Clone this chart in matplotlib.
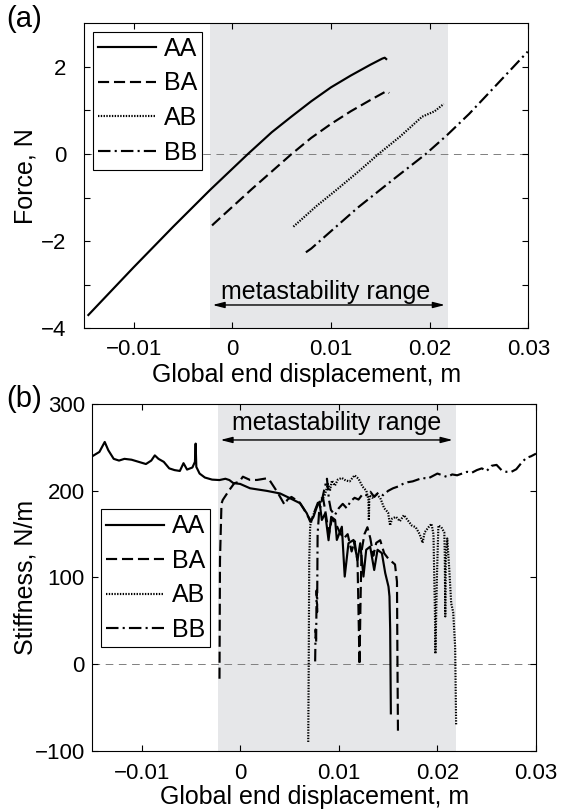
import matplotlib
matplotlib.use("Agg")
import matplotlib.pyplot as plt
from matplotlib.lines import Line2D

plt.rcParams['font.family'] = ['Liberation Sans', 'DejaVu Sans']
plt.rcParams['lines.scale_dashes'] = False
plt.rcParams['axes.linewidth'] = 0.8

# ---------------- data ----------------
labels = ["AA", "BA", "AB", "BB"]
meta_lo, meta_hi = -0.0023, 0.0219

x_ticks = [-0.01, 0.0, 0.01, 0.02, 0.03]
x_ticklabels = ["\u22120.01", "0", "0.01", "0.02", "0.03"]
force_ticks = [-4, -3, -2, -1, 0, 1, 2]
force_ticklabels = ["\u22124", "", "\u22122", "", "0", "", "2"]
stiff_ticks = [-100, 0, 100, 200, 300]
stiff_ticklabels = ["\u2212100", "0", "100", "200", "300"]

# force vs. global end displacement
force_AA_x = [-0.01459, -0.0100, -0.0060, -0.00226, 0.00158, 0.0040, 0.0060, 0.0080,
              0.0100, 0.0120, 0.0140, 0.0152, 0.01545, 0.0156]
force_AA_y = [-3.695, -2.60, -1.67, -0.826, 0.0, 0.50, 0.86, 1.21,
              1.53, 1.80, 2.05, 2.19, 2.21, 2.18]
force_BA_x = [-0.00205, -0.0019, 0.0020, 0.00601, 0.0080, 0.0100, 0.0120, 0.0140,
              0.0156, 0.0159]
force_BA_y = [-1.64, -1.606, -0.80, 0.0, 0.37, 0.69, 0.98, 1.24, 1.44, 1.40]
force_AB_x = [0.00619, 0.0085, 0.01054, 0.0128, 0.01482, 0.0170, 0.01924, 0.0205, 0.02142]
force_AB_y = [-1.668, -1.20, -0.826, -0.40, 0.0, 0.40, 0.857, 0.98, 1.148]
force_BB_x = [0.00746, 0.0080, 0.01272, 0.0165, 0.01961, 0.02178, 0.0240, 0.0260, 0.02994]
force_BB_y = [-2.256, -2.17, -1.23, -0.55, 0.0, 0.437, 0.92, 1.40, 2.35]

# stiffness vs. global end displacement
stiff_AA_x = [-0.0150, -0.01428, -0.01374, -0.01338, -0.01283, -0.01229, -0.01174,
              -0.01102, -0.01029, -0.00956, -0.00902, -0.00866, -0.00829, -0.00775,
              -0.0072, -0.00666, -0.00612, -0.00575, -0.00539, -0.00485, -0.00459,
              -0.00452, -0.00445, -0.00412, -0.00358, -0.00285, -0.0021, -0.0015,
              -0.0011, -0.0007, 0.0000, 0.0010, 0.0027, 0.00405, 0.00507, 0.00608,
              0.00676, 0.0071, 0.00743, 0.00778, 0.00804, 0.00828, 0.00862, 0.00896,
              0.00923, 0.00963, 0.0098, 0.01031, 0.0106, 0.01098, 0.01149, 0.0119,
              0.01217, 0.0125, 0.01278, 0.01318, 0.01359, 0.01393, 0.01437, 0.01471,
              0.01504, 0.01514, 0.01521, 0.01528]
stiff_AA_y = [240, 245, 256.5, 247, 237, 235, 237,
              236, 233.5, 231, 235, 241, 237, 233.5,
              226, 224, 223, 232, 224.6, 227, 233.5,
              254.6, 227.7, 220, 215.4, 213, 212.5, 214,
              212.5, 209, 208, 203, 200, 197, 191.4, 185.7,
              174, 164.4, 170, 181.7, 187.5, 166.4, 174, 143,
              170, 166.4, 143.3, 158.6, 101, 139.5, 143.3, 120,
              139.5, 101, 132, 135.6, 108.6, 132, 128, 105,
              89.4, 78, 40, -57]

stiff_BA_x = [-0.0021, -0.00205, -0.0019, -0.00177, -0.0011, -0.0006, -0.00008,
              0.00027, 0.0010, 0.0017, 0.0027, 0.0030, 0.0034, 0.0038, 0.0042,
              0.0045, 0.0048, 0.0052, 0.0056, 0.0060, 0.0064, 0.0068, 0.0072,
              0.0076, 0.0080, 0.0084, 0.0087, 0.0090, 0.0093, 0.0097, 0.0101,
              0.0105, 0.0109, 0.0113, 0.0116, 0.0119, 0.0120, 0.0121, 0.0122,
              0.0123, 0.0126, 0.0129, 0.0132, 0.0135, 0.0138, 0.0142, 0.0146,
              0.0150, 0.0154, 0.0157, 0.0159, 0.01595, 0.0160]
stiff_BA_y = [-17, 120, 185, 189.5, 201, 208.8, 210.6,
              216.4, 212.6, 212.6, 214.5, 212, 205, 198, 190,
              184, 190, 193, 190, 187, 180, 172, 165,
              178, 190, 192, 172, 150, 168, 162, 152,
              145, 150, 130, 142, 118, 60, -1, 70,
              130, 150, 158, 145, 125, 140, 143, 128,
              122, 118, 115, 95, 0, -77]

stiff_AB_x = [0.0069, 0.00695, 0.0070, 0.0071, 0.0074, 0.0078, 0.0082, 0.0086,
              0.0089, 0.0091, 0.0093, 0.0096, 0.0099, 0.0103, 0.0107, 0.0111,
              0.0116, 0.0120, 0.0124, 0.0128, 0.0130, 0.01305, 0.0131, 0.0134,
              0.0138, 0.0142, 0.0146, 0.0150, 0.0152, 0.0154, 0.0158, 0.0162,
              0.0166, 0.0170, 0.0174, 0.0178, 0.0182, 0.0185, 0.0187, 0.0191,
              0.0194, 0.0196, 0.01975, 0.0198, 0.01995, 0.0201, 0.0204, 0.0207,
              0.02075, 0.0208, 0.02085, 0.0210, 0.0212, 0.0214, 0.0216, 0.0218,
              0.0219]
stiff_AB_y = [-90, 0, 120, 160, 172, 182, 188, 196,
              208, 200, 212, 206, 213, 215, 212, 211,
              218, 214, 205, 200, 190, 166, 195, 192,
              196, 192, 180, 175, 160, 168, 170, 165,
              172, 166, 160, 158, 150, 140, 152, 158,
              162, 150, 60, 12, 100, 160, 158, 152,
              125, 55, 120, 145, 110, 70, 60, 20,
              -70]

stiff_BB_x = [0.0076, 0.00765, 0.0077, 0.00775, 0.0078, 0.00785, 0.0080, 0.0083,
              0.0086, 0.0088, 0.0090, 0.0092, 0.0096, 0.0100, 0.0104, 0.0108,
              0.0112, 0.0116, 0.0120, 0.0124, 0.0128, 0.0132, 0.0136, 0.0140,
              0.0145, 0.0150, 0.0155, 0.0160, 0.0165, 0.0170, 0.0175, 0.0180,
              0.0185, 0.0190, 0.0195, 0.0200, 0.0205, 0.0210, 0.0215, 0.0220,
              0.0225, 0.0230, 0.0235, 0.0240, 0.0245, 0.0250, 0.0255, 0.0260,
              0.0265, 0.0270, 0.0275, 0.0280, 0.0285, 0.0290, 0.0295, 0.0300]
stiff_BB_y = [3, 40, 25, 85, 60, 150, 175, 190,
              205, 214, 190, 178, 172, 180, 185, 180,
              188, 192, 190, 196, 195, 199, 193, 198,
              195, 200, 203, 205, 208, 210, 211, 213,
              215, 214, 217, 220, 218, 216, 219, 218,
              220, 222, 221, 224, 226, 223, 229, 230,
              224, 222, 222, 225, 232, 238, 240, 243]

# ---------------- styles ----------------
styles = {
    "AA": dict(linestyle="-"),
    "BA": dict(linestyle=(0, (8, 3.5))),
    "AB": dict(linestyle=(0, (1.0, 1.0))),
    "BB": dict(linestyle=(0, (9, 3, 1.5, 3))),
}
LW = 1.55
SHADE = "#e6e7e9"
TICK_FS = 16
LABEL_FS = 18

force_data = {"AA": (force_AA_x, force_AA_y), "BA": (force_BA_x, force_BA_y),
              "AB": (force_AB_x, force_AB_y), "BB": (force_BB_x, force_BB_y)}
stiff_data = {"AA": (stiff_AA_x, stiff_AA_y), "BA": (stiff_BA_x, stiff_BA_y),
              "AB": (stiff_AB_x, stiff_AB_y), "BB": (stiff_BB_x, stiff_BB_y)}

W, H = 561, 811
fig = plt.figure(figsize=(W / 100, H / 100), dpi=100)


def px_axes(left, top, right, bottom):
    return fig.add_axes([left / W, 1 - bottom / H, (right - left) / W, (bottom - top) / H])


def style_axes(ax, xpad, ypad):
    ax.tick_params(direction="in", length=4, width=0.8, top=True, right=True,
                   labelsize=TICK_FS)
    ax.tick_params(axis="x", pad=xpad)
    ax.tick_params(axis="y", pad=ypad)
    for s in ax.spines.values():
        s.set_color("black")


def draw_panel(ax, data, ylim, yticks, yticklabels, ylabel, arrow_y, text_x, text_y,
               xpad, ypad, legend_anchor):
    ax.axvspan(meta_lo, meta_hi, color=SHADE, lw=0, zorder=0)
    ax.axhline(0, color="#7f7f7f", lw=0.7, linestyle=(0, (5.5, 4)), zorder=1)
    handles = []
    for name in labels:
        xs, ys = data[name]
        ax.plot(xs, ys, color="black", lw=LW, zorder=3, **styles[name])
        handles.append(Line2D([], [], color="black", lw=LW, **styles[name]))
    ax.set_xlim(-0.015, 0.03)
    ax.set_ylim(*ylim)
    ax.set_xticks(x_ticks)
    ax.set_xticklabels(x_ticklabels)
    ax.set_yticks(yticks)
    ax.set_yticklabels(yticklabels)
    style_axes(ax, xpad, ypad)
    ax.set_xlabel("Global end displacement, m", fontsize=LABEL_FS)
    ax.set_ylabel(ylabel, fontsize=LABEL_FS)
    ax.annotate("", xy=(-0.0020, arrow_y), xytext=(0.02155, arrow_y),
                arrowprops=dict(arrowstyle="<|-|>,head_length=0.7,head_width=0.18",
                                color="black", lw=1.0, shrinkA=0, shrinkB=0),
                zorder=4)
    ax.text(text_x, text_y, "metastability range", fontsize=LABEL_FS,
            ha="center", va="center", zorder=4)
    leg = ax.legend(handles, labels, loc="upper left",
                    bbox_to_anchor=(legend_anchor[0] / W, 1 - legend_anchor[1] / H),
                    bbox_transform=fig.transFigure, fontsize=LABEL_FS,
                    frameon=True, fancybox=False, framealpha=1, edgecolor="black",
                    handlelength=2.3, handletextpad=0.33, borderpad=0.2,
                    labelspacing=0.42, borderaxespad=0)
    leg.get_frame().set_linewidth(0.8)
    leg.set_zorder(5)


# panel (a): force
ax1 = px_axes(84.3, 23.3, 528.3, 328.3)
draw_panel(ax1, force_data, (-4, 3), force_ticks, force_ticklabels, "Force, N",
           arrow_y=-3.465, text_x=0.00946, text_y=-3.16, xpad=7.5, ypad=13,
           legend_anchor=(93, 32))
ax1.xaxis.set_label_coords(0.5, -0.113)
ax1.yaxis.set_label_coords(-0.1054, 0.5)

# panel (b): stiffness
ax2 = px_axes(92.3, 404.3, 536.0, 750.6)
draw_panel(ax2, stiff_data, (-100, 300), stiff_ticks, stiff_ticklabels, "Stiffness, N/m",
           arrow_y=258.8, text_x=0.00976, text_y=278, xpad=9, ypad=5.4,
           legend_anchor=(101, 509.3))
ax2.xaxis.set_label_coords(0.5, -0.099)
ax2.yaxis.set_label_coords(-0.1235, 0.5)

fig.text(24 / W, 1 - 19 / H, "(a)", fontsize=21, ha="center", va="center")
fig.text(24 / W, 1 - 399 / H, "(b)", fontsize=21, ha="center", va="center")

fig.savefig("out.png", dpi=100)
